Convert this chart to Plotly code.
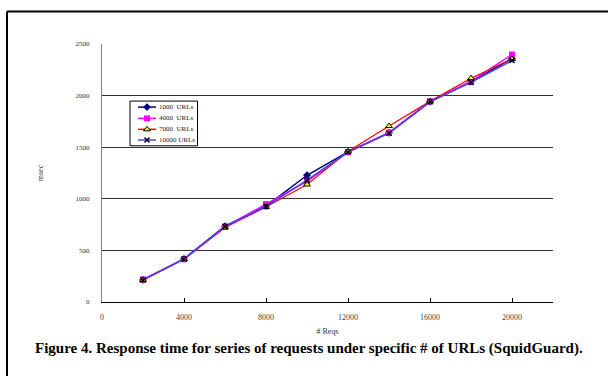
import plotly.graph_objects as go

reqs = [2000, 4000, 6000, 8000, 10000, 12000, 14000, 16000, 18000, 20000]
urls_1000 = [215, 418, 735, 930, 1228, 1455, 1640, 1942, 2135, 2360]
urls_4000 = [218, 415, 728, 948, 1170, 1452, 1641, 1945, 2140, 2398]
urls_7000 = [213, 416, 722, 920, 1138, 1458, 1705, 1944, 2169, 2355]
urls_10000 = [214, 417, 733, 925, 1180, 1453, 1636, 1940, 2128, 2340]
names = ["1000  URLs", "4000  URLs", "7000  URLs", "10000 URLs"]
x_ticks = [0, 4000, 8000, 12000, 16000, 20000]
x_tick_labels = ["0", "4000", "8000", "12000", "16000", "20000"]
y_ticks = [0, 500, 1000, 1500, 2000, 2500]

FONT = "Liberation Serif, Times New Roman, serif"

styles = [
    dict(line=dict(color="#000080", width=1.5),
         marker=dict(symbol="diamond", size=6, color="#000080")),
    dict(line=dict(color="#FF00FF", width=1.5),
         marker=dict(symbol="square", size=6, color="#FF00FF")),
    dict(line=dict(color="#FF0000", width=1.2),
         marker=dict(symbol="triangle-up", size=6, color="#FFFF00",
                     line=dict(color="black", width=1))),
    dict(line=dict(color="#4444FF", width=1.5),
         marker=dict(symbol="x-thin", size=5, color="black",
                     line=dict(color="black", width=1.5))),
]
series = [urls_1000, urls_4000, urls_7000, urls_10000]

fig = go.Figure()
for name, ys, st in zip(names, series, styles):
    fig.add_trace(go.Scatter(x=reqs, y=ys, name=name, mode="lines+markers",
                             line=st["line"], marker=st["marker"], showlegend=False))

# manual compact legend (pixel-based layout helpers)
def px_x(p):
    return (p - 102) / 451.0

def px_y(p):
    return (302 - p) / 258.5

legend_rows = [106.7, 118, 129, 139.7]
fig.add_shape(type="rect", xref="paper", yref="paper",
              x0=px_x(130), x1=px_x(197.5), y0=px_y(145.5), y1=px_y(100.7),
              line=dict(color="black", width=1), fillcolor="white", layer="below")
for name, row, st in zip(names, legend_rows, styles):
    fig.add_shape(type="line", xref="paper", yref="paper",
                  x0=px_x(138), x1=px_x(156), y0=px_y(row), y1=px_y(row),
                  line=dict(color=st["line"]["color"], width=1.5), layer="below")
    fig.add_trace(go.Scatter(x=[px_x(147)], y=[px_y(row)], xaxis="x2", yaxis="y2",
                             mode="markers", marker=st["marker"], showlegend=False,
                             hoverinfo="skip"))
    fig.add_annotation(text=name, xref="paper", yref="paper", x=px_x(157), y=px_y(row),
                       xanchor="left", yanchor="middle", showarrow=False,
                       font=dict(family=FONT, size=7, color="#222222"))

fig.update_layout(
    width=608, height=376,
    margin=dict(l=102, r=55, t=43.5, b=74),
    paper_bgcolor="white", plot_bgcolor="white",
    font=dict(family=FONT, size=8, color="#333333"),
    showlegend=False,
    xaxis=dict(range=[0, 22000], tickvals=x_ticks, ticktext=x_tick_labels,
               showgrid=False, zeroline=False, showline=True, linecolor="black",
               linewidth=1, ticks="inside", ticklen=4, tickcolor="black",
               tickfont=dict(family=FONT, size=8, color="#444444"),
               ticklabelstandoff=7,
               title=dict(text="# Reqs", font=dict(family=FONT, size=8, color="#333333"),
                          standoff=7)),
    yaxis=dict(range=[0, 2500], tickvals=y_ticks,
               showgrid=True, gridcolor="#303030", gridwidth=1, zeroline=False,
               showline=True, linecolor="#808080", linewidth=1,
               ticks="", tickfont=dict(family=FONT, size=7, color="#333333"),
               ticklabelstandoff=10,
               title=dict(text="msec", font=dict(family=FONT, size=8, color="#333333"),
                          standoff=30)),
    xaxis2=dict(overlaying="x", range=[0, 1], visible=False, fixedrange=True),
    yaxis2=dict(overlaying="y", range=[0, 1], visible=False, fixedrange=True),
)

# outer frame (left and top edges)
fig.add_shape(type="line", xref="paper", yref="paper",
              x0=px_x(7), x1=px_x(7), y0=px_y(11), y1=px_y(400),
              line=dict(color="black", width=2))
fig.add_shape(type="line", xref="paper", yref="paper",
              x0=px_x(7), x1=px_x(640), y0=px_y(11), y1=px_y(11),
              line=dict(color="black", width=2))

fig.add_annotation(text="<b>Figure 4. Response time for series of requests under specific # of URLs (SquidGuard).</b>",
                   xref="paper", yref="paper", x=px_x(309), y=px_y(349),
                   xanchor="center", yanchor="middle", showarrow=False,
                   font=dict(family=FONT, size=15, color="black"))

fig.write_html("out.html", config={"displayModeBar": False},
               post_script="document.body.style.margin='0';document.body.style.overflow='hidden';")
